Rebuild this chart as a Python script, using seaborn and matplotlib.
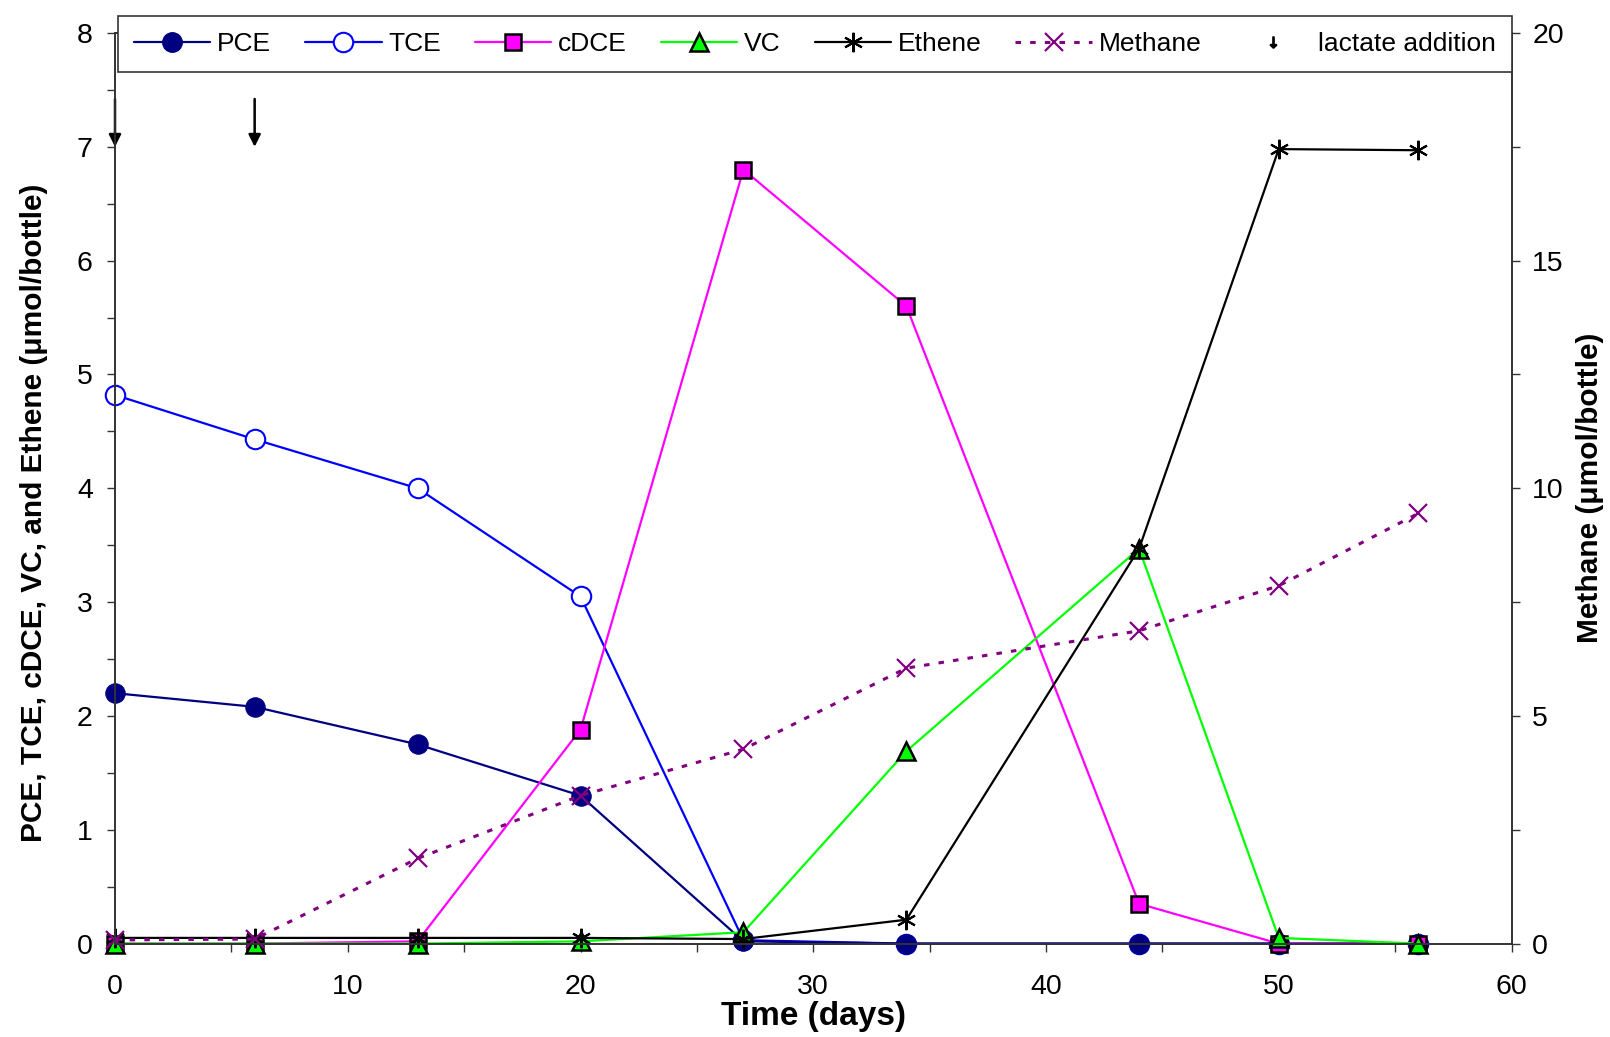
import matplotlib
matplotlib.use("Agg")
from matplotlib import pyplot as plt
from matplotlib.lines import Line2D
from matplotlib.ticker import MultipleLocator
import pandas as pd
import seaborn as sns

# sampling days
days = [0, 6, 13, 20, 27, 34, 44, 50, 56]

# umol/bottle, left axis
pce = [2.2, 2.08, 1.75, 1.3, 0.02, 0.0, 0.0, 0.0, 0.0]
tce = [4.82, 4.43, 4.0, 3.05, 0.03, 0.0, 0.0, 0.0, 0.0]
cdce = [0.0, 0.0, 0.02, 1.88, 6.8, 5.6, 0.35, 0.0, 0.0]
vc = [0.0, 0.0, 0.0, 0.02, 0.1, 1.69, 3.47, 0.05, 0.0]
ethene = [0.05, 0.05, 0.05, 0.05, 0.04, 0.21, 3.47, 6.98, 6.97]

# umol/bottle, right axis
methane = [0.08, 0.1, 1.87, 3.25, 4.27, 6.05, 6.87, 7.86, 9.45]

# lactate additions (day, arrow top, arrow tip)
lactate_days = [0, 6]
arrow_top = 7.42
arrow_tip = 7.0

df = pd.DataFrame({"day": days, "PCE": pce, "TCE": tce, "cDCE": cdce,
                   "VC": vc, "Ethene": ethene, "Methane": methane})

sns.set_style("ticks")
plt.rcParams["font.family"] = ["Liberation Sans", "DejaVu Sans"]
plt.rcParams["font.size"] = 20
plt.rcParams["text.color"] = "black"
plt.rcParams["axes.labelcolor"] = "black"
plt.rcParams["xtick.labelcolor"] = "black"
plt.rcParams["ytick.labelcolor"] = "black"

W, H = 1610, 1037
x0, x1 = 115, 1511.5    # axes left/right in pixels
y0, y1 = 943.6, 33      # axes bottom/top in pixels

fig = plt.figure(figsize=(16.1, 10.37), dpi=100)
ax = fig.add_axes([x0 / W, 1 - y0 / H, (x1 - x0) / W, (y0 - y1) / H])
ax2 = ax.twinx()

styles = {
    "PCE": dict(color="#000080", marker="o", markersize=14, markerfacecolor="#000080",
                markeredgecolor="#000080"),
    "TCE": dict(color="#0000FF", marker="o", markersize=14, markerfacecolor="white",
                markeredgecolor="#0000FF", markeredgewidth=1.5),
    "cDCE": dict(color="#FF00FF", marker="s", markersize=12, markerfacecolor="#FF00FF",
                 markeredgecolor="black", markeredgewidth=1.8),
    "VC": dict(color="#00FF00", marker="^", markersize=13, markerfacecolor="#00FF00",
               markeredgecolor="black", markeredgewidth=1.8),
    "Ethene": dict(color="black", marker=(6, 2, 0), markersize=14,
                   markeredgecolor="black", markeredgewidth=1.5),
}

# TCE first so the PCE markers sit on top where both are zero
for name in ["TCE", "PCE", "cDCE", "VC", "Ethene"]:
    sns.lineplot(data=df, x="day", y=name, ax=ax, linewidth=1.6, clip_on=False,
                 **styles[name])

handles = [Line2D([], [], linewidth=1.6, label=name, **st) for name, st in styles.items()]

meth_st = dict(color="#800080", marker="x", markersize=13, markeredgewidth=1.6,
               markeredgecolor="#800080", linestyle=(0, (1.8, 3)))
sns.lineplot(data=df, x="day", y="Methane", ax=ax2, linewidth=2.2, clip_on=False, **meth_st)
handles.append(Line2D([], [], linewidth=2.2, label="Methane", **meth_st))
handles.append(Line2D([], [], linestyle="none", marker=r"$\downarrow$", markersize=8,
                      color="black", label="lactate addition"))

for d in lactate_days:
    ax.annotate("", xy=(d, arrow_tip), xytext=(d, arrow_top),
                arrowprops=dict(arrowstyle="-|>", color="black", lw=1.8,
                                mutation_scale=18, shrinkA=0, shrinkB=0))

ax.set_xlim(0, 60)
ax.set_ylim(0, 8)
ax2.set_ylim(0, 20)
ax.xaxis.set_major_locator(MultipleLocator(10))
ax.xaxis.set_minor_locator(MultipleLocator(5))
ax.yaxis.set_major_locator(MultipleLocator(1))
ax.yaxis.set_minor_locator(MultipleLocator(0.5))
ax2.yaxis.set_major_locator(MultipleLocator(5))
ax2.yaxis.set_minor_locator(MultipleLocator(2.5))

for a in (ax, ax2):
    a.tick_params(which="both", direction="out", length=6, width=1, labelsize=20.5,
                  color="#333333", labelcolor="black", pad=10)
    for sp in a.spines.values():
        sp.set_linewidth(1.2)
        sp.set_color("#333333")
ax.tick_params(axis="x", which="both", pad=16)
ax2.tick_params(axis="y", which="both", pad=9)

axw, axh = x1 - x0, y0 - y1
ax.set_xlabel("Time (days)", fontsize=24, fontweight="bold", color="black")
ax.xaxis.set_label_coords(0.5, -(1001 - y0) / axh)
ax.set_ylabel("PCE, TCE, cDCE, VC, and Ethene (\u03bcmol/bottle)", fontsize=21.5,
              fontweight="bold", color="black")
ax.yaxis.set_label_coords(-(x0 - 48) / axw, 0.473)
ax2.set_ylabel("Methane (\u03bcmol/bottle)", fontsize=21.5, fontweight="bold", color="black")
ax2.yaxis.set_label_coords(1 + (1576 - x1) / axw, 0.5)
ax2.set_zorder(ax.get_zorder() + 1)
ax2.patch.set_visible(False)

leg = fig.legend(handles=handles, ncol=7, loc="lower left", mode="expand",
                 bbox_to_anchor=(118 / W, 1 - 72 / H, (1512 - 118) / W, 62 / H),
                 fontsize=19, frameon=True, fancybox=False, framealpha=1,
                 edgecolor="#333333", handlelength=2.9, handletextpad=0.25,
                 columnspacing=1.0, borderaxespad=0, borderpad=0.6)
leg.get_frame().set_linewidth(1.2)
leg.set_zorder(10)
for t in leg.get_texts():
    t.set_color("black")

fig.savefig("out.png", dpi=100)
